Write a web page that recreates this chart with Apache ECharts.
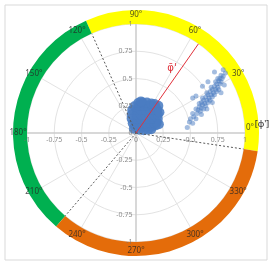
<!DOCTYPE html>
<html><head><meta charset="utf-8">
<script src="https://cdn.jsdelivr.net/npm/echarts@6/dist/echarts.min.js"></script>
<style>html,body{margin:0;padding:0;background:#fff}#c{width:272px;height:264px}</style>
</head><body><div id="c"></div>
<script>
// ---- data ----
const angleTicks = [0, 30, 60, 90, 120, 150, 180, 210, 240, 270, 300, 330];
const angleTickLabels = ['0°','30°','60°','90°','120°','150°','180°','210°','240°','270°','300°','330°'];
const sectorNames = ['yellow', 'green', 'orange'];
const sectorSpans = [122.5, 115.5, 122];     // degrees, counter-clockwise from start
const sectorStart = -8.5;                    // degrees
const boundaryAngles = [114, 229.5, 351.5];  // dashed lines
const meanAngle = 55;                        // φ̄'
const centralCluster = [
 [0.03,0.03],[0.07,0.025],[0.11,0.03],[0.14,0.035],
 [-0.01,0.06],[0.03,0.06],[0.07,0.06],[0.11,0.06],[0.15,0.06],[0.18,0.07],
 [-0.03,0.09],[0.01,0.09],[0.05,0.09],[0.09,0.09],[0.13,0.09],[0.17,0.09],[0.19,0.10],
 [-0.04,0.13],[0.005,0.13],[0.045,0.13],[0.085,0.13],[0.125,0.13],[0.165,0.13],[0.20,0.13],
 [-0.04,0.17],[0.005,0.17],[0.045,0.17],[0.085,0.17],[0.125,0.17],[0.165,0.17],[0.20,0.17],
 [-0.035,0.21],[0.01,0.21],[0.05,0.21],[0.09,0.21],[0.13,0.21],[0.17,0.21],[0.195,0.21],
 [-0.015,0.245],[0.03,0.25],[0.07,0.25],[0.11,0.25],[0.15,0.25],[0.18,0.24],
 [0.02,0.275],[0.06,0.28],[0.10,0.28],[0.14,0.27],[0.17,0.265],
 [0.205,0.25],[0.215,0.19],[0.21,0.08],[-0.02,0.04],[0.045,0.29]
];
const outerCluster = [
 [0.47,0.05],[0.49,0.10],[0.52,0.09],[0.50,0.13],[0.53,0.15],[0.55,0.13],[0.52,0.18],
 [0.56,0.18],[0.57,0.21],[0.59,0.20],[0.58,0.24],[0.60,0.23],[0.61,0.26],[0.62,0.22],
 [0.60,0.28],[0.63,0.27],[0.64,0.25],[0.62,0.30],[0.65,0.30],[0.66,0.28],[0.64,0.33],
 [0.67,0.32],[0.68,0.30],[0.66,0.35],[0.69,0.35],[0.70,0.33],[0.68,0.38],[0.71,0.37],
 [0.72,0.35],[0.70,0.40],[0.73,0.40],[0.74,0.38],[0.72,0.43],[0.75,0.42],[0.76,0.40],
 [0.74,0.45],[0.77,0.45],[0.76,0.48],[0.78,0.47],[0.77,0.50],[0.79,0.50],[0.78,0.53],
 [0.80,0.52],[0.75,0.50],[0.73,0.47],[0.69,0.42],[0.65,0.37],[0.61,0.32],[0.58,0.27],
 [0.55,0.22],[0.52,0.32],[0.55,0.34],[0.61,0.43],[0.66,0.47],[0.72,0.56],[0.80,0.58],
 [0.82,0.55],[0.81,0.44],[0.78,0.37],[0.70,0.28],[0.65,0.22],[0.60,0.17]
];
const axisTicks = [-1,-0.75,-0.5,-0.25,0,0.25,0.5,0.75,1];

// ---- chart ----
const sectorColors = {yellow:'#FFFF00', green:'#00B050', orange:'#E46C0A'};
const CX = 136, CY = 133, R = 109, RO = 123, RL = 130;
const EXT = 1.1;
const chart = echarts.init(document.getElementById('c'), null, {renderer:'canvas'});
const tickFont = {fontSize:7, color:'#707070', fontFamily:'Noto Sans'};
const gray = '#BFBFBF';
const valueAxis = (pos) => ({
  type:'value', min:-EXT, max:EXT, position:pos,
  axisLine:{show:false, onZero:false}, axisTick:{show:false}, splitLine:{show:false},
  axisLabel:{show:false}
});
const hiddenAngle = {type:'value', min:0, max:360, startAngle:0, clockwise:false,
  axisLine:{show:false}, axisTick:{show:false}, axisLabel:{show:false}, splitLine:{show:false}};
const hiddenRadius = {type:'value', min:0, max:1,
  axisLine:{show:false}, axisTick:{show:false}, axisLabel:{show:false}, splitLine:{show:false}};
chart.setOption({
  animation:false,
  backgroundColor:'#fff',
  grid:{left:CX-R*EXT, top:CY-R*EXT, width:2*R*EXT, height:2*R*EXT},
  xAxis:valueAxis('bottom'),
  yAxis:valueAxis('left'),
  polar:[{center:[CX,CY], radius:R},{center:[CX,CY], radius:RL}],
  angleAxis:[{type:'value', min:0, max:360, interval:30, startAngle:0, clockwise:false, polarIndex:0,
    axisLine:{show:false}, axisTick:{show:false}, axisLabel:{show:false},
    splitLine:{show:true, lineStyle:{color:'#E3E3E3', width:1}}},
    Object.assign({polarIndex:1}, hiddenAngle)],
  radiusAxis:[{type:'value', min:0, max:1, interval:0.25, polarIndex:0,
    axisLine:{show:false}, axisTick:{show:false}, axisLabel:{show:false},
    splitLine:{show:true, lineStyle:{color:'#E3E3E3', width:1}}},
    Object.assign({polarIndex:1}, hiddenRadius)],
  graphic:[
    {type:'rect', shape:{x:5, y:5, width:262, height:255}, style:{fill:'none', stroke:'#D9D9D9', lineWidth:1}, z:0},
    {type:'text', x:262, y:124, zlevel:1, style:{text:"[φ']", font:'9px "Noto Sans"', fill:'#262626', align:'center', verticalAlign:'middle'}, z:100},
    {type:'text', x:172, y:68, zlevel:1, style:{text:"φ\u0304'", font:'10px "DejaVu Sans"', fill:'#E0303A', align:'center', verticalAlign:'middle'}, z:100}
  ],
  series:[
    {type:'pie', silent:true, center:[CX,CY], radius:[R,RO], startAngle:sectorStart, clockwise:false,
     label:{show:false}, labelLine:{show:false}, z:1,
     itemStyle:{borderWidth:0},
     data:sectorNames.map((n,i)=>({name:n, value:sectorSpans[i], itemStyle:{color:sectorColors[n]}}))},
    // cartesian axis lines through the origin
    {type:'line', coordinateSystem:'cartesian2d', silent:true, symbol:'none', z:2,
     lineStyle:{color:gray, width:1}, data:[[axisTicks[0],0],[axisTicks[axisTicks.length-1],0]]},
    {type:'line', coordinateSystem:'cartesian2d', silent:true, symbol:'none', z:2,
     lineStyle:{color:gray, width:1}, data:[[0,axisTicks[0]],[0,axisTicks[axisTicks.length-1]]]},
    {type:'scatter', coordinateSystem:'cartesian2d', symbolSize:10, silent:true, z:4,
     itemStyle:{color:'#4A7CC2', opacity:0.88, borderWidth:0}, data:centralCluster},
    {type:'scatter', coordinateSystem:'cartesian2d', symbolSize:5, silent:true, z:4,
     itemStyle:{color:'#4A7CC2', opacity:0.5, borderWidth:0}, data:outerCluster},
    ...boundaryAngles.map(a=>({type:'line', coordinateSystem:'polar', polarIndex:0, silent:true, symbol:'none', z:5,
     lineStyle:{color:'#595959', width:1, type:[2,2]}, data:[[0,a],[1,a]]})),
    {type:'line', coordinateSystem:'polar', polarIndex:0, silent:true, symbol:'none', z:6,
     lineStyle:{color:'#E0303A', width:1}, data:[[0,meanAngle],[1,meanAngle]]},
    // tick labels of the x and y axes
    {type:'scatter', coordinateSystem:'cartesian2d', silent:true, symbolSize:1, z:20, zlevel:1,
     itemStyle:{color:'rgba(0,0,0,0)'}, labelLayout:{hideOverlap:false},
     data:axisTicks.map(v=>({value:[v,0], name:String(v)})),
     label:Object.assign({show:true, position:'bottom', distance:3, formatter:p=>p.name}, tickFont)},
    {type:'scatter', coordinateSystem:'cartesian2d', silent:true, symbolSize:1, z:20, zlevel:1,
     itemStyle:{color:'rgba(0,0,0,0)'}, labelLayout:{hideOverlap:false},
     data:axisTicks.map(v=>({value:[0,v], name:String(v)})),
     label:Object.assign({show:true, position:'left', distance:3, formatter:p=>p.name}, tickFont)},
    {type:'scatter', coordinateSystem:'polar', polarIndex:1, silent:true, symbolSize:1, z:10, zlevel:1,
     itemStyle:{color:'rgba(0,0,0,0)'},
     data:angleTicks.map((a,i)=>({value:[118/RL,a], name:angleTickLabels[i],
        label: a===0 ? {offset:[-4,-5]} : {}})),
     label:{show:true, position:'inside', formatter:p=>p.name, fontSize:8, color:'#262626', fontFamily:'Noto Sans'}}
  ]
});
</script></body></html>
